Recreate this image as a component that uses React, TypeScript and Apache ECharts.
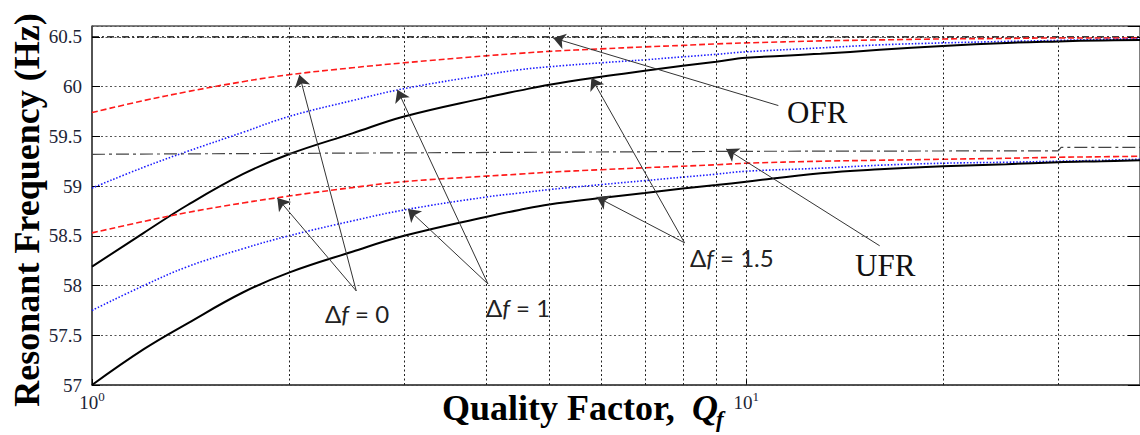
import React, { useEffect, useRef } from "react";
import * as echarts from "echarts";

// Quality factor sample points (x, log axis)
const qf = [1, 1.2, 1.4, 1.7, 2, 2.5, 3, 4, 4.5, 5, 6, 7, 8, 9, 10, 13, 16, 20, 25, 30, 35, 40];

// OFR curves (upper group)
const ofrDf0 = [59.74, 59.86, 59.95, 60.05, 60.12, 60.19, 60.24, 60.31, 60.335, 60.355, 60.38, 60.4, 60.415, 60.43, 60.44, 60.46, 60.47, 60.48, 60.485, 60.49, 60.49, 60.49];
const ofrDf1 = [58.98, 59.19, 59.35, 59.54, 59.7, 59.86, 59.98, 60.12, 60.17, 60.2, 60.24, 60.27, 60.3, 60.325, 60.35, 60.39, 60.42, 60.44, 60.455, 60.465, 60.475, 60.48];
const ofrDf15 = [58.19, 58.53, 58.81, 59.12, 59.32, 59.53, 59.7, 59.89, 59.96, 60.02, 60.1, 60.16, 60.21, 60.25, 60.29, 60.33, 60.37, 60.41, 60.44, 60.455, 60.465, 60.47];

// UFR curves (lower group)
const ufrDf0 = [58.53, 58.645, 58.735, 58.83, 58.9, 58.985, 59.045, 59.1, 59.12, 59.14, 59.165, 59.185, 59.2, 59.215, 59.23, 59.25, 59.26, 59.27, 59.28, 59.29, 59.295, 59.3];
const ufrDf1 = [57.75, 58.0, 58.19, 58.37, 58.5, 58.65, 58.76, 58.89, 58.93, 58.965, 59.015, 59.055, 59.09, 59.12, 59.15, 59.18, 59.21, 59.23, 59.24, 59.25, 59.26, 59.27];
const ufrDf15 = [57.0, 57.36, 57.62, 57.93, 58.13, 58.34, 58.5, 58.69, 58.76, 58.815, 58.88, 58.93, 58.975, 59.01, 59.045, 59.13, 59.17, 59.2, 59.22, 59.24, 59.25, 59.26];

// Threshold lines
const ofrLimit = [[1, 60.5], [40, 60.5]];
const ufrLimit = [[1, 59.32], [10, 59.35], [30, 59.355], [30.3, 59.39], [40, 59.39]];

// Minor vertical grid positions
const minorGridQ = [2, 3, 4, 5, 6, 7, 8, 9, 10, 20, 30];

// Annotation arrows: [from, to] in data coords
const arrows: number[][][] = [
  [[11.2, 59.81], [5.07, 60.49]],
  [[16.0, 58.4], [9.32, 59.374]],
  [[8.05, 58.43], [5.8, 60.09]],
  [[8.05, 58.43], [5.91, 58.89]],
  [[4.03, 58.016], [2.93, 59.968]],
  [[4.03, 58.016], [3.04, 58.77]],
  [[2.535, 57.946], [2.075, 60.119]],
  [[2.535, 57.946], [1.92, 58.88]],
];

const SERIF = "Liberation Serif, serif";
const SANS = "Lato, sans-serif";
const LABEL_COLOR = "#1c2436";

const pair = (ys: number[]) => qf.map((q, i) => [q, ys[i]]);

export default function App() {
  const ref = useRef<HTMLDivElement>(null);
  useEffect(() => {
    if (!ref.current) return;
    const chart = echarts.init(ref.current, undefined, { renderer: "svg" });
    const red = { color: "#ff1a1a", width: 1.6, type: [6, 3] as any };
    const blue = { color: "#1a1aff", width: 1.6, type: [1.5, 1.8] as any };
    const black = { color: "#000", width: 2, type: "solid" as any };
    const dfRich = {
      n: { fontFamily: SANS, fontSize: 24, color: "#222" },
      i: { fontFamily: SANS, fontSize: 24, fontStyle: "italic", color: "#222" },
    };
    const mkLine = (name: string, data: number[][], ls: any) => ({
      name,
      type: "line",
      data,
      showSymbol: false,
      symbol: "none",
      smooth: 0.4,
      lineStyle: ls,
      silent: true,
      z: 3,
    });
    chart.setOption({
      animation: false,
      textStyle: { fontFamily: SERIF },
      grid: { left: 92, top: 26, right: -3, bottom: 50, show: true, borderColor: "#000", borderWidth: 1 },
      xAxis: {
        type: "log",
        logBase: 10,
        min: 1,
        max: 40,
        axisLine: { lineStyle: { color: "#444", width: 1.5 } },
        axisTick: { inside: true, length: 6, lineStyle: { color: "#000" } },
        splitLine: { show: false },
        axisLabel: {
          margin: 5,
          showMaxLabel: false,
          fontFamily: SERIF,
          formatter: (v: number) => (Math.abs(v - 1) < 1e-6 ? "{b|10}{s|0}" : Math.abs(v - 10) < 1e-6 ? "{b|10}{s|1}" : ""),
          rich: {
            b: { fontFamily: SERIF, fontSize: 19, color: LABEL_COLOR, lineHeight: 22, verticalAlign: "bottom" },
            s: { fontFamily: SERIF, fontSize: 13, color: LABEL_COLOR, lineHeight: 13, verticalAlign: "top" },
          },
        },
      },
      yAxis: [
        {
          type: "value",
          min: 57,
          max: 60.61,
          interval: 0.5,
          axisLine: { show: true, lineStyle: { color: "#444", width: 1.5 } },
          axisTick: { show: true, inside: true, length: 8, lineStyle: { color: "#000" } },
          axisLabel: {
            showMaxLabel: false,
            margin: 10,
            fontFamily: SERIF,
            fontSize: 19,
            color: LABEL_COLOR,
          },
          splitLine: { show: true, lineStyle: { color: "#555", type: [2, 2.5], width: 1 } },
        },
        {
          type: "value",
          position: "right",
          min: 57,
          max: 60.61,
          interval: 0.5,
          axisLine: { show: true, lineStyle: { color: "#000" } },
          axisTick: { show: true, inside: true, length: 12, lineStyle: { color: "#000" } },
          axisLabel: { show: false },
          splitLine: { show: false },
        },
      ],
      series: [
        {
          name: "ofrLimit",
          type: "line",
          data: ofrLimit,
          symbol: "none",
          silent: true,
          lineStyle: { color: "#000", width: 1.2, type: [7, 3, 2, 3] },
          z: 2,
          markLine: {
            silent: true,
            symbol: ["none", "none"],
            label: { show: false },
            lineStyle: { color: "#222", type: [2, 2.5], width: 1 },
            data: minorGridQ.map((q) => ({ xAxis: q })),
          },
        },
        mkLine("OFR Δf=0", pair(ofrDf0), red),
        mkLine("OFR Δf=1", pair(ofrDf1), blue),
        mkLine("OFR Δf=1.5", pair(ofrDf15), black),
        mkLine("UFR Δf=0", pair(ufrDf0), red),
        mkLine("UFR Δf=1", pair(ufrDf1), blue),
        mkLine("UFR Δf=1.5", pair(ufrDf15), black),
        {
          name: "ufrLimit",
          type: "line",
          data: ufrLimit,
          symbol: "none",
          silent: true,
          lineStyle: { color: "#444", width: 1.2, type: [13, 4, 3, 4] },
          z: 6,
          markLine: {
            silent: true,
            symbol: ["none", "arrow"],
            symbolSize: 12,
            label: { show: false },
            itemStyle: { color: "#111" },
            lineStyle: { color: "#333", type: "solid", width: 1 },
            data: arrows.map(([a, b]) => [{ coord: a }, { coord: b }]),
          },
        },
      ],
      graphic: [
        {
          type: "text",
          x: 27,
          y: 210,
          rotation: Math.PI / 2,
          style: { text: "Resonant Frequency (Hz)", fontFamily: SERIF, fontWeight: "bold", fontSize: 36, fill: "#000", align: "center", verticalAlign: "middle" },
        },
        {
          type: "text",
          x: 442,
          y: 408,
          style: { text: "Quality Factor,", fontFamily: SERIF, fontWeight: "bold", fontSize: 36, fill: "#000", align: "left", verticalAlign: "middle" },
        },
        {
          type: "text",
          x: 692,
          y: 408,
          style: { text: "Q", fontFamily: SERIF, fontWeight: "bold", fontStyle: "italic", fontSize: 36, fill: "#000", align: "left", verticalAlign: "middle" },
        },
        {
          type: "text",
          x: 716,
          y: 419,
          style: { text: "f", fontFamily: SERIF, fontWeight: "bold", fontStyle: "italic", fontSize: 23, fill: "#000", align: "left", verticalAlign: "middle" },
        },
        { type: "text", x: 787, y: 112, style: { text: "OFR", fontFamily: SERIF, fontSize: 31, fill: "#111", align: "left", verticalAlign: "middle" } },
        { type: "text", x: 855, y: 265, style: { text: "UFR", fontFamily: SERIF, fontSize: 31, fill: "#111", align: "left", verticalAlign: "middle" } },
        { type: "text", x: 325, y: 313, style: { text: "{n|Δ}{i|f}{n| = 0}", rich: dfRich, fill: "#222", align: "left", verticalAlign: "middle" } },
        { type: "text", x: 486, y: 307, style: { text: "{n|Δ}{i|f}{n| = 1}", rich: dfRich, fill: "#222", align: "left", verticalAlign: "middle" } },
        { type: "text", x: 690, y: 257, style: { text: "{n|Δ}{i|f}{n| = 1.5}", rich: dfRich, fill: "#222", align: "left", verticalAlign: "middle" } },
      ],
    });
    return () => chart.dispose();
  }, []);
  return <div ref={ref} style={{ position: "absolute", left: 0, top: 0, width: 1140, height: 435, background: "#fff" }} />;
}
